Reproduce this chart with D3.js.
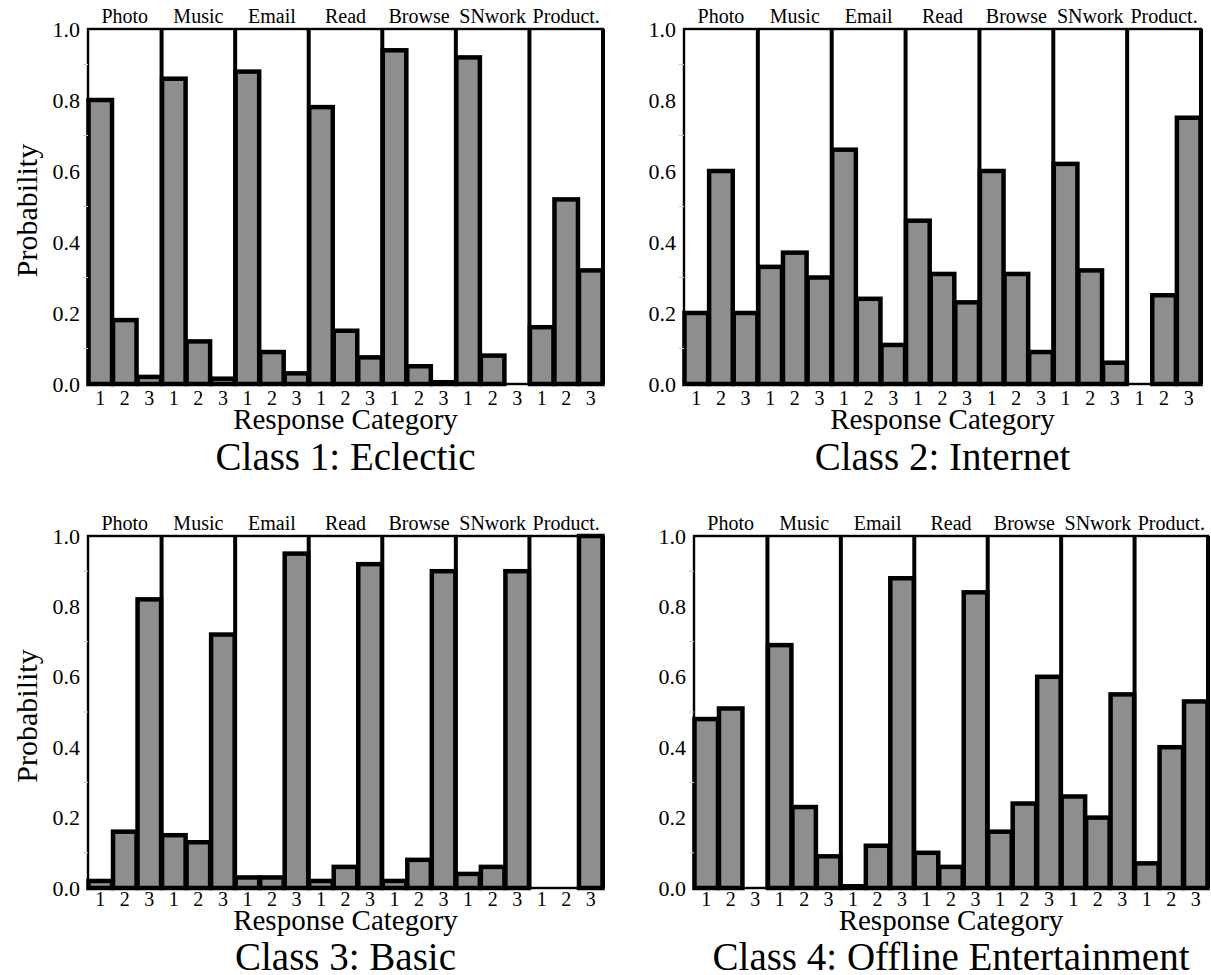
<!DOCTYPE html>
<html><head><meta charset="utf-8">
<script src="https://cdn.jsdelivr.net/npm/d3@7"></script>
<style>body{margin:0;background:#fff}svg{display:block}</style>
</head><body>
<svg id="chart" width="1211" height="975"></svg>
<script>
const groups = ["Photo","Music","Email","Read","Browse","SNwork","Product."];
const responses = ["1","2","3"];
const yTicks = [0,0.2,0.4,0.6,0.8,1.0];
const yMinorTicks = [0.1,0.3,0.5,0.7,0.9];
const classTitles = ["Class 1: Eclectic","Class 2: Internet","Class 3: Basic","Class 4: Offline Entertainment"];
const class1 = [[0.80,0.18,0.02],[0.86,0.12,0.015],[0.88,0.09,0.03],[0.78,0.15,0.075],[0.94,0.05,0.005],[0.92,0.08,0.0],[0.16,0.52,0.32]];
const class2 = [[0.20,0.60,0.20],[0.33,0.37,0.30],[0.66,0.24,0.11],[0.46,0.31,0.23],[0.60,0.31,0.09],[0.62,0.32,0.06],[0.0,0.25,0.75]];
const class3 = [[0.02,0.16,0.82],[0.15,0.13,0.72],[0.03,0.03,0.95],[0.02,0.06,0.92],[0.02,0.08,0.90],[0.04,0.06,0.90],[0.0,0.0,1.0]];
const class4 = [[0.48,0.51,0.0],[0.69,0.23,0.09],[0.005,0.12,0.88],[0.10,0.06,0.84],[0.16,0.24,0.60],[0.26,0.20,0.55],[0.07,0.40,0.53]];
const classData = [class1,class2,class3,class4];

const panels = [
  {x0:88, x1:603, y0:29, y1:384, ylab:true, tk:21, rc:45, tt:86},
  {x0:684, x1:1201, y0:29, y1:384, ylab:false, tk:21, rc:45, tt:86},
  {x0:88, x1:603, y0:536, y1:888, ylab:true, tk:18, rc:42, tt:82},
  {x0:694, x1:1208, y0:536, y1:888, ylab:false, tk:18, rc:42, tt:82}
];
const FONT = "Liberation Serif";

const svg = d3.select("#chart");
panels.forEach((p,i)=>{
  const data = classData[i];
  const g = svg.append("g");
  const x = d3.scaleBand().domain(groups).range([p.x0,p.x1]).padding(0);
  const xi = d3.scaleBand().domain(responses).range([0,x.bandwidth()]).padding(0);
  const y = d3.scaleLinear().domain([0,1]).range([p.y1,p.y0]);

  g.append("rect").attr("x",p.x0).attr("y",p.y0).attr("width",p.x1-p.x0).attr("height",p.y1-p.y0)
    .attr("fill","none").attr("stroke","#000").attr("stroke-width",2.4);
  g.selectAll("line.div").data(groups.slice(1)).join("line")
    .attr("x1",d=>x(d)).attr("x2",d=>x(d)).attr("y1",p.y0).attr("y2",p.y1)
    .attr("stroke","#000").attr("stroke-width",4);
  g.append("line").attr("x1",p.x1).attr("x2",p.x1).attr("y1",p.y0).attr("y2",p.y1).attr("stroke","#000").attr("stroke-width",4);

  groups.forEach((grp,gi)=>{
    g.selectAll(null).data(data[gi]).join("rect")
      .attr("x",(d,k)=>x(grp)+xi(responses[k])+0.5)
      .attr("width",xi.bandwidth()-1)
      .attr("y",d=>y(d))
      .attr("height",d=>y(0)-y(d))
      .attr("fill","#8e8e8e").attr("stroke","#000").attr("stroke-width",4.5);
    g.selectAll(null).data(responses).join("text")
      .attr("x",r=>x(grp)+xi(r)+xi.bandwidth()/2)
      .attr("y",p.y1+p.tk)
      .attr("text-anchor","middle").attr("font-size",20).attr("font-family",FONT).text(r=>r);
  });
  g.selectAll("text.grp").data(groups).join("text").attr("class","grp")
    .attr("x",d=>x(d)+x.bandwidth()/2).attr("y",p.y0-6)
    .attr("text-anchor","middle").attr("font-size",20).attr("font-family",FONT).text(d=>d);

  const yAxis = d3.axisLeft(y).tickValues(yTicks).tickFormat(d3.format(".1f")).tickSize(0).tickPadding(8);
  const ax = g.append("g").attr("transform",`translate(${p.x0},0)`).call(yAxis)
    .attr("font-family",FONT).attr("font-size",22);
  ax.select(".domain").remove();
  ax.selectAll("text").attr("fill","#000").attr("font-family",FONT);
  g.selectAll("line.minor").data(yMinorTicks).join("line").attr("class","minor")
    .attr("x1",p.x0-5).attr("x2",p.x0).attr("y1",d=>y(d)).attr("y2",d=>y(d))
    .attr("stroke","#ccc").attr("stroke-width",1);

  const cx = (p.x0+p.x1)/2;
  g.append("text").attr("x",cx).attr("y",p.y1+p.rc).attr("text-anchor","middle").attr("font-size",29).attr("font-family",FONT).text("Response Category");
  g.append("text").attr("x",cx).attr("y",p.y1+p.tt).attr("text-anchor","middle").attr("font-size",39).attr("font-family",FONT).text(classTitles[i]);
  if(p.ylab){
    g.append("text").attr("transform",`translate(37,${(p.y0+p.y1)/2+4}) rotate(-90)`)
      .attr("text-anchor","middle").attr("font-size",30).attr("font-family",FONT).text("Probability");
  }
});
</script>
</body></html>
